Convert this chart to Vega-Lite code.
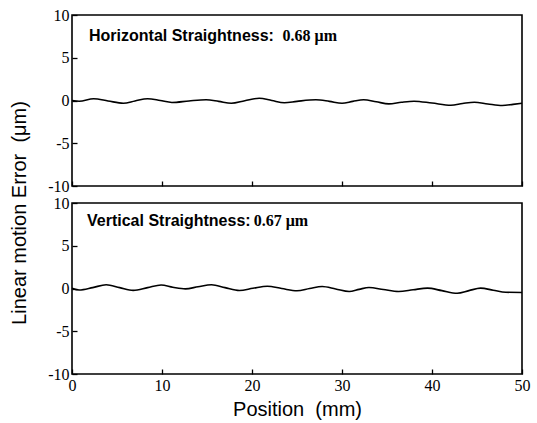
{
  "$schema": "https://vega.github.io/schema/vega-lite/v6.json",
  "padding": {"left": 9, "top": 6, "right": 14, "bottom": 4},
  "title": {"text": "Linear motion Error\u00a0\u00a0(μm)", "orient": "left", "anchor": "middle", "font": "Liberation Sans", "fontSize": 20, "fontWeight": "normal", "color": "black", "offset": 17},
  "datasets": {
    "horiz": [
      {"pos": 0.0, "err": 0.0}, {"pos": 0.8, "err": -0.08}, {"pos": 2.4, "err": 0.2}, {"pos": 4.0, "err": -0.05},
      {"pos": 5.7, "err": -0.32}, {"pos": 7.0, "err": -0.05}, {"pos": 8.4, "err": 0.21}, {"pos": 9.8, "err": 0.0},
      {"pos": 11.1, "err": -0.23}, {"pos": 13.0, "err": -0.05}, {"pos": 14.9, "err": 0.08}, {"pos": 16.3, "err": -0.1},
      {"pos": 17.7, "err": -0.32}, {"pos": 19.2, "err": -0.02}, {"pos": 20.8, "err": 0.27}, {"pos": 22.2, "err": 0.0},
      {"pos": 23.6, "err": -0.27}, {"pos": 25.0, "err": -0.1}, {"pos": 27.1, "err": 0.08}, {"pos": 28.6, "err": -0.1},
      {"pos": 30.0, "err": -0.32}, {"pos": 31.2, "err": -0.1}, {"pos": 32.4, "err": 0.08}, {"pos": 33.8, "err": -0.15},
      {"pos": 35.2, "err": -0.39}, {"pos": 36.6, "err": -0.2}, {"pos": 38.0, "err": -0.08}, {"pos": 40.0, "err": -0.3},
      {"pos": 42.1, "err": -0.55}, {"pos": 43.4, "err": -0.35}, {"pos": 44.7, "err": -0.2}, {"pos": 46.2, "err": -0.4},
      {"pos": 47.8, "err": -0.58}, {"pos": 49.0, "err": -0.45}, {"pos": 50.0, "err": -0.32}
    ],
    "vert": [
      {"pos": 0.0, "err": 0.04}, {"pos": 0.8, "err": -0.18}, {"pos": 2.3, "err": 0.1}, {"pos": 3.8, "err": 0.44},
      {"pos": 5.3, "err": 0.1}, {"pos": 6.8, "err": -0.22}, {"pos": 8.4, "err": 0.1}, {"pos": 9.9, "err": 0.41},
      {"pos": 11.2, "err": 0.15}, {"pos": 12.6, "err": -0.04}, {"pos": 14.0, "err": 0.2}, {"pos": 15.5, "err": 0.44},
      {"pos": 17.0, "err": 0.1}, {"pos": 18.6, "err": -0.24}, {"pos": 20.1, "err": 0.02}, {"pos": 21.7, "err": 0.27},
      {"pos": 23.3, "err": 0.0}, {"pos": 25.0, "err": -0.27}, {"pos": 26.4, "err": 0.0}, {"pos": 27.8, "err": 0.24},
      {"pos": 29.3, "err": -0.05}, {"pos": 30.8, "err": -0.35}, {"pos": 31.9, "err": -0.1}, {"pos": 33.0, "err": 0.12},
      {"pos": 34.6, "err": -0.12}, {"pos": 36.3, "err": -0.35}, {"pos": 37.9, "err": -0.15}, {"pos": 39.5, "err": 0.04},
      {"pos": 41.1, "err": -0.25}, {"pos": 42.8, "err": -0.55}, {"pos": 44.1, "err": -0.25}, {"pos": 45.4, "err": 0.04},
      {"pos": 46.8, "err": -0.2}, {"pos": 48.2, "err": -0.44}, {"pos": 50.0, "err": -0.47}
    ],
    "hlabel": [
      {"pos": 1.89, "err": 7.6, "part": "name", "t": "Horizontal Straightness:"},
      {"pos": 23.4, "err": 7.6, "part": "value", "t": "0.68 μm"}
    ],
    "vlabel": [
      {"pos": 1.67, "err": 7.9, "part": "name", "t": "Vertical Straightness:"},
      {"pos": 20.2, "err": 7.9, "part": "value", "t": "0.67 μm"}
    ]
  },
  "vconcat": [
    {
      "width": 450,
      "height": 171,
      "layer": [
        {
          "data": {"name": "horiz"},
          "mark": {"type": "line", "color": "black", "strokeWidth": 1.6, "interpolate": "monotone"},
          "encoding": {
            "x": {"field": "pos", "type": "quantitative", "scale": {"domain": [0, 50], "nice": false}, "axis": {"labels": false, "title": null, "values": [0, 10, 20, 30, 40, 50]}},
            "y": {"field": "err", "type": "quantitative", "scale": {"domain": [-10, 10], "nice": false}, "axis": {"values": [-10, -5, 0, 5, 10], "title": null, "labelExpr": "'' + datum.value"}}
          }
        },
        {
          "data": {"name": "hlabel"},
          "transform": [{"filter": "datum.part === 'name'"}],
          "mark": {"type": "text", "align": "left", "baseline": "middle", "font": "Liberation Sans", "fontSize": 16, "fontWeight": "bold", "color": "black"},
          "encoding": {"x": {"field": "pos", "type": "quantitative"}, "y": {"field": "err", "type": "quantitative"}, "text": {"field": "t"}}
        },
        {
          "data": {"name": "hlabel"},
          "transform": [{"filter": "datum.part === 'value'"}],
          "mark": {"type": "text", "align": "left", "baseline": "middle", "font": "Liberation Serif", "fontSize": 16, "fontWeight": "bold", "color": "black"},
          "encoding": {"x": {"field": "pos", "type": "quantitative"}, "y": {"field": "err", "type": "quantitative"}, "text": {"field": "t"}}
        }
      ]
    },
    {
      "width": 450,
      "height": 171,
      "layer": [
        {
          "data": {"name": "vert"},
          "mark": {"type": "line", "color": "black", "strokeWidth": 1.6, "interpolate": "monotone"},
          "encoding": {
            "x": {"field": "pos", "type": "quantitative", "scale": {"domain": [0, 50], "nice": false}, "axis": {"title": "Position\u00a0\u00a0(mm)", "values": [0, 10, 20, 30, 40, 50], "titlePadding": 6, "titleFontSize": 20}},
            "y": {"field": "err", "type": "quantitative", "scale": {"domain": [-10, 10], "nice": false}, "axis": {"values": [-10, -5, 0, 5, 10], "title": null, "labelExpr": "'' + datum.value"}}
          }
        },
        {
          "data": {"name": "vlabel"},
          "transform": [{"filter": "datum.part === 'name'"}],
          "mark": {"type": "text", "align": "left", "baseline": "middle", "font": "Liberation Sans", "fontSize": 16, "fontWeight": "bold", "color": "black"},
          "encoding": {"x": {"field": "pos", "type": "quantitative"}, "y": {"field": "err", "type": "quantitative"}, "text": {"field": "t"}}
        },
        {
          "data": {"name": "vlabel"},
          "transform": [{"filter": "datum.part === 'value'"}],
          "mark": {"type": "text", "align": "left", "baseline": "middle", "font": "Liberation Serif", "fontSize": 16, "fontWeight": "bold", "color": "black"},
          "encoding": {"x": {"field": "pos", "type": "quantitative"}, "y": {"field": "err", "type": "quantitative"}, "text": {"field": "t"}}
        }
      ]
    }
  ],
  "spacing": 17,
  "bounds": "flush",
  "config": {
    "view": {"stroke": "black", "strokeWidth": 1.6},
    "axis": {"domain": false, "grid": false, "ticks": true, "tickSize": -5, "tickColor": "black", "tickWidth": 1.3, "labelFont": "Liberation Serif", "labelFontSize": 16, "labelColor": "black", "labelPadding": 8, "labelFlush": false, "titleFont": "Liberation Sans", "titleFontSize": 19, "titleFontWeight": "normal", "titleColor": "black"}
  }
}
